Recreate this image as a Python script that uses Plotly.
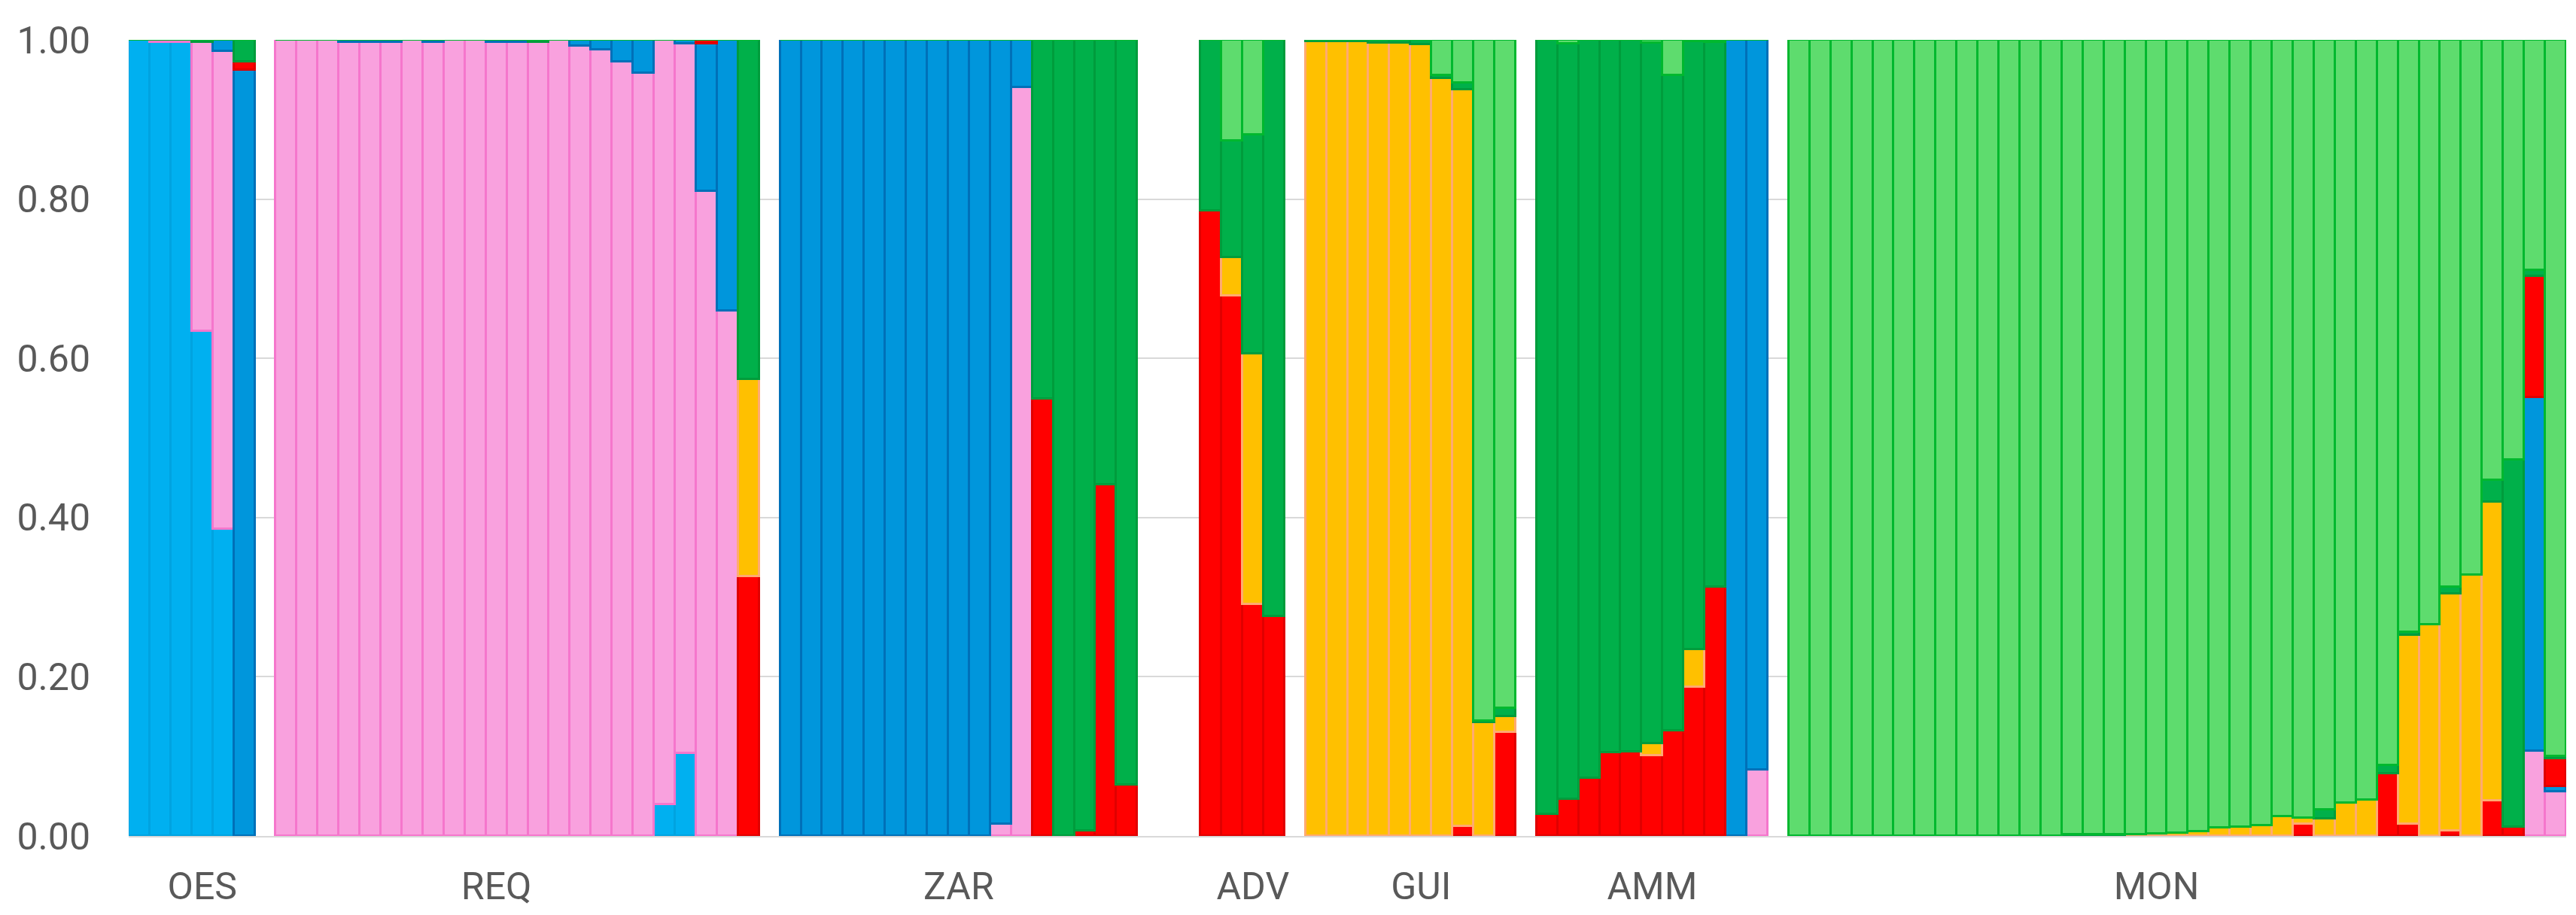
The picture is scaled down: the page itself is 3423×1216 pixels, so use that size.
import plotly.graph_objects as go

# populations and how many individuals each has, plus empty slots after each
groups = ["OES", "REQ", "ZAR", "ADV", "GUI", "AMM", "MON"]
group_sizes = [6, 23, 17, 4, 10, 11, 37]
gap_after = [1, 1, 3, 1, 1, 1, 0]

#### ancestry proportions per cluster (one value per individual, in plot order) ####
cyan = ([1.0, 0.997, 0.997, 0.634, 0.386, 0]                       # OES
        + [0]*18 + [0.040, 0.104, 0, 0, 0]                         # REQ
        + [0]*17 + [0]*4 + [0]*10 + [0]*11 + [0]*37)

pink = ([0, 0.003, 0.003, 0.363, 0.600, 0]
        + [1.0, 1.0, 1.0, 0.997, 0.997, 0.997, 1.0, 0.997, 1.0, 1.0, 0.997, 0.997,
           0.997, 1.0, 0.992, 0.988, 0.973, 0.958, 0.960, 0.891, 0.810, 0.660, 0]
        + [0]*10 + [0.015, 0.940, 0, 0, 0, 0, 0]
        + [0]*4 + [0]*10
        + [0]*10 + [0.083]
        + [0]*35 + [0.107, 0.056])

blue = ([0, 0, 0, 0, 0.014, 0.962]
        + [0, 0, 0, 0.003, 0.003, 0.003, 0, 0.003, 0, 0, 0.003, 0.003,
           0, 0, 0.008, 0.012, 0.027, 0.042, 0, 0.005, 0.185, 0.340, 0]
        + [1.0]*10 + [0.985, 0.060, 0, 0, 0, 0, 0]
        + [0]*4 + [0]*10
        + [0]*9 + [1.0, 0.917]
        + [0]*35 + [0.444, 0.006])

red = ([0, 0, 0, 0, 0, 0.011]
       + [0]*20 + [0.005, 0, 0.326]
       + [0]*12 + [0.549, 0, 0.007, 0.441, 0.064]
       + [0.785, 0.679, 0.291, 0.276]
       + [0]*7 + [0.012, 0, 0.130]
       + [0.027, 0.046, 0.073, 0.105, 0.106, 0.101, 0.132, 0.187, 0.313, 0, 0]
       + [0]*24 + [0.015, 0, 0, 0, 0.078, 0.015, 0, 0.007, 0, 0.044, 0.011, 0.152, 0.035])

orange = ([0]*6
          + [0]*22 + [0.248]
          + [0]*17
          + [0, 0.048, 0.315, 0]
          + [0.998, 0.998, 0.998, 0.996, 0.996, 0.994, 0.952, 0.926, 0.143, 0.020]
          + [0, 0, 0, 0, 0, 0.015, 0, 0.047, 0, 0, 0]
          + [0]*16 + [0.002, 0.003, 0.004, 0.006, 0.010, 0.011, 0.013, 0.025, 0.008, 0.022,
                      0.042, 0.045, 0, 0.237, 0.266, 0.297, 0.328, 0.376, 0, 0, 0])

dkgreen = ([0, 0, 0, 0.003, 0, 0.027]
           + [0]*12 + [0.003] + [0]*9 + [0.426]
           + [0]*12 + [0.451, 1.0, 0.993, 0.559, 0.936]
           + [0.215, 0.146, 0.275, 0.724]
           + [0.002, 0.002, 0.002, 0.004, 0.004, 0.006, 0.004, 0.008, 0.002, 0.011]
           + [0.973, 0.949, 0.927, 0.895, 0.894, 0.880, 0.824, 0.764, 0.684, 0, 0]
           + [0]*13 + [0.002, 0.002, 0.002] + [0]*9
           + [0.011, 0, 0, 0.011, 0.004, 0, 0.009, 0, 0.027, 0.462, 0.008, 0.003])

ltgreen = ([0]*6 + [0]*23 + [0]*17
           + [0, 0.127, 0.119, 0]
           + [0]*6 + [0.044, 0.054, 0.855, 0.839]
           + [0, 0.005, 0, 0, 0, 0.004, 0.044, 0.002, 0.003, 0, 0]
           + [1.0]*13 + [0.998, 0.998, 0.998, 0.998, 0.997, 0.996, 0.994, 0.990, 0.989,
                         0.987, 0.975, 0.977, 0.967, 0.958, 0.955, 0.911, 0.744, 0.734,
                         0.687, 0.672, 0.553, 0.527, 0.289, 0.900])

# group label positions on the x axis (slot units)
label_pos = [3, 17, 39, 53, 61, 72, 96]

# slot index for every individual, skipping the empty columns between groups
xpos = []
slot = 0
for n, g in zip(group_sizes, gap_after):
    xpos += list(range(slot, slot + n))
    slot += n + g
n_slots = slot

series = [
    ("K1", cyan, "#00B0F0", "#00A3E0"),
    ("K2", pink, "#F9A1DE", "#F576CC"),
    ("K3", blue, "#0096DC", "#0070B8"),
    ("K4", red, "#FF0000", "#E00000"),
    ("K5", orange, "#FFC000", "#FFAA70"),
    ("K6", dkgreen, "#00B04A", "#009C3C"),
    ("K7", ltgreen, "#5EDC6E", "#00B82E"),
]

fig = go.Figure()
for name, vals, fill, edge in series:
    fig.add_trace(go.Bar(
        x=xpos, y=vals, name=name, width=1,
        marker=dict(color=fill, line=dict(color=edge, width=3)),
    ))

fig.update_layout(
    barmode="stack", bargap=0,
    width=3423, height=1216,
    margin=dict(l=163, r=21, t=45, b=113),
    paper_bgcolor="white", plot_bgcolor="white",
    showlegend=False,
    font=dict(family="Roboto", size=50, color="#595959"),
)
fig.update_xaxes(
    range=[-0.5, n_slots - 0.5],
    tickvals=label_pos, ticktext=groups,
    ticks="", ticklabelstandoff=22,
    showgrid=False, zeroline=False,
    showline=True, linecolor="#D9D9D9", linewidth=2,
)
fig.update_yaxes(
    range=[0, 1], tickvals=[0, 0.2, 0.4, 0.6, 0.8, 1.0], tickformat=".2f",
    ticks="", ticklabelstandoff=50,
    showgrid=True, gridcolor="#D9D9D9", gridwidth=2, zeroline=False,
)

fig.write_html("out.html")
